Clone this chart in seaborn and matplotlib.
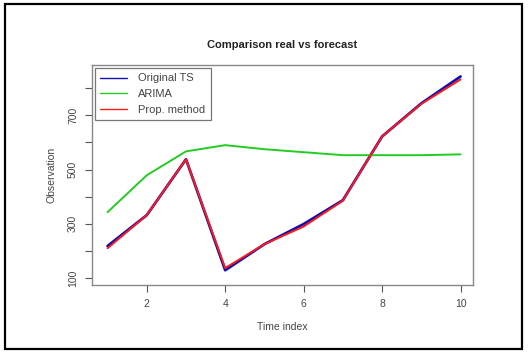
import numpy as np
import pandas as pd
import matplotlib
matplotlib.use("Agg")
import matplotlib.pyplot as plt
import seaborn as sns

# values
time_index = [1, 2, 3, 4, 5, 6, 7, 8, 9, 10]
original_ts = [218, 332, 538, 129, 225, 299, 387, 622, 744, 843]
arima = [343, 479, 567, 590, 575, 564, 553, 553, 553, 556]
prop_method = [210, 332, 538, 137, 225, 290, 385, 622, 742, 832]

series_names = ["Original TS", "ARIMA", "Prop. method"]
series_colors = ["#1010b0", "#22cc22", "#ff1a1a"]

df = pd.DataFrame({
    "Time index": time_index * 3,
    "Observation": original_ts + arima + prop_method,
    "series": [series_names[0]] * 10 + [series_names[1]] * 10 + [series_names[2]] * 10,
})

sns.set_style("white")
plt.rcParams["font.family"] = ["Liberation Sans", "DejaVu Sans"]

fig = plt.figure(figsize=(5.28, 3.52), dpi=100)
ax = fig.add_axes([0.174, 0.190, 0.722, 0.625])

sns.lineplot(data=df, x="Time index", y="Observation", hue="series",
             hue_order=series_names, palette=series_colors, ax=ax,
             linewidth=1.4, legend=False)
# original series slightly thicker underneath
ax.lines[0].set_linewidth(2.0)

ax.set_xlim(0.6, 10.32)
ax.set_ylim(74, 885)
ax.set_xticks([2, 4, 6, 8, 10])
ax.set_yticks([100, 200, 300, 400, 500, 600, 700, 800])
ax.set_yticklabels(["100", "", "300", "", "500", "", "700", ""], rotation=90, va="center")
ax.tick_params(axis="both", direction="out", length=5, width=0.8, color="#555555",
               labelsize=7.5, labelcolor="#444444", pad=5, left=True, bottom=True)

for sp in ax.spines.values():
    sp.set_color("#888888")
    sp.set_linewidth(1.0)

ax.set_title("Comparison real vs forecast", fontsize=8, fontweight="bold", pad=12, color="#222222")
ax.set_xlabel("Time index", fontsize=7.5, color="#444444", labelpad=9)
ax.set_ylabel("Observation", fontsize=7.5, color="#444444", labelpad=8)

handles = [plt.Line2D([], [], color=c, linewidth=1.0) for c in series_colors]
leg = ax.legend(handles, series_names, loc="upper left", fontsize=8,
                frameon=True, fancybox=False, borderaxespad=0.25,
                handlelength=2.4, handletextpad=1.0, borderpad=0.5,
                labelspacing=0.5)
leg.get_frame().set_edgecolor("#555555")
leg.get_frame().set_linewidth(0.9)
for t in leg.get_texts():
    t.set_color("#444444")

# outer frame around the whole picture
fig.patches.append(plt.Rectangle((5 / 528, 3 / 352), 517 / 528, 345 / 352,
                                 transform=fig.transFigure, fill=False,
                                 edgecolor="black", linewidth=1.6))

fig.savefig("out.png", dpi=100)
